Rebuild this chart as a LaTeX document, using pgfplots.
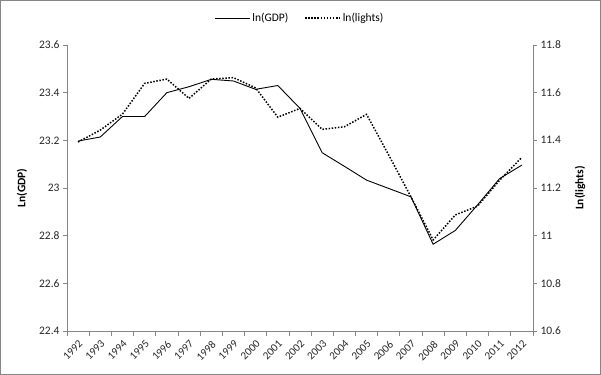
\documentclass[border=0pt]{standalone}
\usepackage{fontspec}
\setmainfont{Carlito}
\usepackage{pgfplots}
\pgfplotsset{compat=1.18}
\definecolor{axgray}{HTML}{868686}
\definecolor{txt}{HTML}{262626}
\pgfplotstableread{
x gdp lights
0 23.197 11.393
1 23.214 11.443
2 23.300 11.510
3 23.300 11.639
4 23.400 11.657
5 23.425 11.576
6 23.456 11.657
7 23.449 11.663
8 23.414 11.620
9 23.430 11.497
10 23.334 11.534
11 23.148 11.446
12 23.091 11.457
13 23.033 11.509
14 22.998 11.338
15 22.963 11.163
16 22.764 10.982
17 22.822 11.087
18 22.929 11.124
19 23.040 11.233
20 23.096 11.329
}\datatable
\begin{document}
\begin{tikzpicture}
\useasboundingbox (0,0) rectangle (601bp,375bp);
\draw[line width=1bp, color=axgray] (0.5bp,0.5bp) rectangle (600.5bp,374.5bp);
\pgfplotsset{
  every axis/.append style={
    at={(67bp,44bp)}, anchor=south west,
    scale only axis, width=466bp, height=286bp,
    xmin=-0.5, xmax=20.5,
    axis line style={axgray, line width=0.75bp},
    tick align=outside,
    major tick length=4bp, minor tick length=5bp,
    every tick/.style={axgray, line width=0.75bp},
    tick label style={font=\fontsize{11.5bp}{13bp}\selectfont, color=txt},
    /pgf/number format/assume math mode=true,
    label style={font=\fontsize{11.5bp}{13bp}\selectfont\bfseries, color=black},
  }
}
\begin{axis}[
  ymin=22.4, ymax=23.6,
  axis x line*=bottom, axis y line*=left,
  xtick={0,...,20},
  xticklabels={1992,1993,1994,1995,1996,1997,1998,1999,2000,2001,2002,2003,2004,2005,2006,2007,2008,2009,2010,2011,2012},
  x tick label style={rotate=45, anchor=north east, font=\fontsize{11bp}{13bp}\selectfont},
  major x tick style={draw=none},
  minor xtick={-0.5,0.5,...,20.5},
  ytick={22.4,22.6,22.8,23,23.2,23.4,23.6},
  yticklabels={22.4,22.6,22.8,23,23.2,23.4,23.6},
  ylabel={Ln(GDP)},
  ylabel style={at={(axis description cs:-0.0966,0.5)}, anchor=center, rotate=0},
  legend style={at={(axis description cs:0.5,1.094)}, anchor=center, draw=none, fill=none,
    legend columns=2, font=\fontsize{11.5bp}{13bp}\selectfont,
    /tikz/every even column/.append style={column sep=14bp}},
  legend image code/.code={\draw[#1] (0bp,0bp) -- (35bp,0bp);},
]
\addplot[black, line width=0.9bp, mark=none] table[x=x, y=gdp] {\datatable};
\addlegendentry{ln(GDP)}
\addlegendimage{black, line width=1.5bp, dash pattern=on 1.5bp off 1.6bp}
\addlegendentry{ln(lights)}
\end{axis}
\begin{axis}[
  ymin=10.6, ymax=11.8,
  axis x line=none, axis y line*=right,
  ytick={10.6,10.8,11,11.2,11.4,11.6,11.8},
  yticklabels={10.6,10.8,11,11.2,11.4,11.6,11.8},
  ylabel={Ln(lights)},
  ylabel style={at={(axis description cs:1.101,0.5)}, anchor=center, rotate=0},
]
\addplot[black, line width=1.5bp, dash pattern=on 1.5bp off 1.6bp, mark=none] table[x=x, y=lights] {\datatable};
\end{axis}
\end{tikzpicture}
\end{document}
